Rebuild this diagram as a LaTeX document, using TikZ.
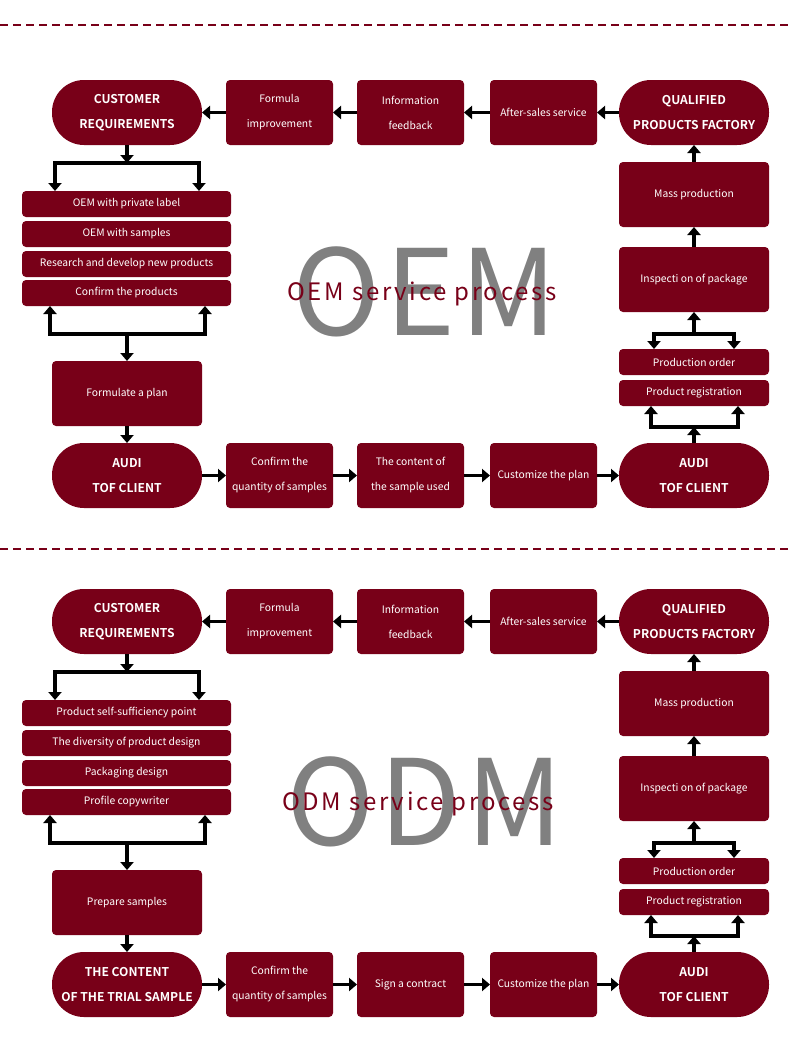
\documentclass[tikz,border=0pt]{standalone}
\usepackage{fontspec}
\setmainfont{Noto Sans CJK SC}[BoldFont={Noto Sans CJK SC Bold}]
\newfontfamily\bigfont[LetterSpace=4]{Noto Sans CJK SC}
\newfontfamily\titlefont[LetterSpace=11]{Noto Sans CJK SC}
\usetikzlibrary{arrows.meta,calc}
\definecolor{wine}{RGB}{120,0,24}

\tikzset{
  base/.style={fill=wine, text=white, inner sep=0pt, outer sep=0pt, align=center, font=\fontsize{10.3}{25}\selectfont},
  pill/.style={base, minimum width=150pt, minimum height=65pt, rounded corners=32pt, font=\bfseries\fontsize{12.1}{25}\selectfont},
  box/.style={base, minimum width=107pt, minimum height=65pt, rounded corners=4pt},
  tallbox/.style={box, minimum width=150pt},
  listbox/.style={box, minimum width=209pt, minimum height=26pt},
  itembox/.style={box, minimum width=150pt, minimum height=26pt},
  arr/.style={line width=3.5pt, -{Triangle[width=13pt,length=8pt]}},
  both/.style={line width=3.5pt, {Triangle[width=13pt,length=8pt]}-{Triangle[width=13pt,length=8pt]}},
  sep/.style={wine, line width=2pt, dash pattern=on 8pt off 5pt},
  bigtext/.style={font=\bigfont\fontsize{119}{119}\selectfont, text=black!50, anchor=base, inner sep=0pt},
  titletext/.style={font=\titlefont\fontsize{24}{24}\selectfont, text=wine, anchor=base, inner sep=0pt}
}

\begin{document}
\begin{tikzpicture}[x=1pt,y=-1pt]
    \useasboundingbox (0,0) rectangle (790,1045);

    % separators
    \draw[sep] (0,25) -- (790,25);
    \draw[sep] (0,549) -- (790,549);

    % ---------------- OEM ----------------
    \node[bigtext] (obig) at (425,335) {OEM};
    \node[titletext] (otitle) at (422,300) {OEM service process};

    \node[pill] (ocust) at (127,112.5) {CUSTOMER\\REQUIREMENTS};
    \node[box] (oform) at (279.5,112.5) {Formula\\improvement};
    \node[box] (oinfo) at (410.5,112.5) {Information\\feedback};
    \node[box] (oafter) at (543.5,112.5) {After-sales service};
    \node[pill] (oqual) at (694,112.5) {QUALIFIED\\PRODUCTS FACTORY};

    \node[tallbox] (omass) at (694,194.5) {Mass production};
    \node[tallbox] (oinsp) at (694,279.5) {Inspecti on of package};
    \node[itembox] (oorder) at (694,362) {Production order};
    \node[itembox] (oreg) at (694,393) {Product registration};

    \node[listbox] (olist1) at (126.5,204) {OEM with private label};
    \node[listbox] (olist2) at (126.5,234) {OEM with samples};
    \node[listbox] (olist3) at (126.5,264) {Research and develop new products};
    \node[listbox] (olist4) at (126.5,293) {Confirm the products};
    \node[tallbox] (oplan) at (127,393.5) {Formulate a plan};

    \node[pill] (otof) at (127,475.5) {AUDI\\TOF CLIENT};
    \node[box] (oquant) at (279.5,475.5) {Confirm the\\quantity of samples};
    \node[box] (osample) at (410.5,475.5) {The content of\\the sample used};
    \node[box] (ocustom) at (543.5,475.5) {Customize the plan};
    \node[pill] (oaudi) at (694,475.5) {AUDI\\TOF CLIENT};

    \draw[arr] (oform) -- (ocust);
    \draw[arr] (oinfo) -- (oform);
    \draw[arr] (oafter) -- (oinfo);
    \draw[arr] (oqual) -- (oafter);
    \draw[arr] (omass) -- (oqual);
    \draw[arr] (oinsp) -- (omass);

    \coordinate (ob1) at (127,163);
    \draw[arr] (ocust) -- (ob1);
    \draw[both] ([xshift=33pt]olist1.north west) |- (ob1) -| ([xshift=-32pt]olist1.north east);
    \coordinate (ob2) at (127,334);
    \draw[both] ([xshift=28pt]olist4.south west) |- (ob2) -| ([xshift=-26pt]olist4.south east);
    \draw[arr] (ob2) -- (oplan.north);
    \draw[arr] (oplan) -- (otof);

    \draw[arr] (otof) -- (oquant);
    \draw[arr] (oquant) -- (osample);
    \draw[arr] (osample) -- (ocustom);
    \draw[arr] (ocustom) -- (oaudi);

    \coordinate (ob3) at (694,334);
    \draw[arr] (ob3) -- (oinsp.south);
    \draw[both] ([xshift=35pt]oorder.north west) |- (ob3) -| ([xshift=-35pt]oorder.north east);
    \coordinate (ob4) at (694,427);
    \draw[arr] (oaudi) -- (ob4);
    \draw[both] ([xshift=32pt]oreg.south west) |- (ob4) -| ([xshift=-31pt]oreg.south east);

    % ---------------- ODM ----------------
    \node[bigtext] (dbig) at (425,845) {ODM};
    \node[titletext] (dtitle) at (418,810) {ODM service process};

    \node[pill] (dcust) at (127,621.5) {CUSTOMER\\REQUIREMENTS};
    \node[box] (dform) at (279.5,621.5) {Formula\\improvement};
    \node[box] (dinfo) at (410.5,621.5) {Information\\feedback};
    \node[box] (dafter) at (543.5,621.5) {After-sales service};
    \node[pill] (dqual) at (694,621.5) {QUALIFIED\\PRODUCTS FACTORY};

    \node[tallbox] (dmass) at (694,703.5) {Mass production};
    \node[tallbox] (dinsp) at (694,788.5) {Inspecti on of package};
    \node[itembox] (dorder) at (694,871) {Production order};
    \node[itembox] (dreg) at (694,902) {Product registration};

    \node[listbox] (dlist1) at (126.5,713) {Product self-sufficiency point};
    \node[listbox] (dlist2) at (126.5,743) {The diversity of product design};
    \node[listbox] (dlist3) at (126.5,773) {Packaging design};
    \node[listbox] (dlist4) at (126.5,802) {Profile copywriter};
    \node[tallbox] (dplan) at (127,902.5) {Prepare samples};

    \node[pill] (dtof) at (127,984.5) {THE CONTENT\\OF THE TRIAL SAMPLE};
    \node[box] (dquant) at (279.5,984.5) {Confirm the\\quantity of samples};
    \node[box] (dsign) at (410.5,984.5) {Sign a contract};
    \node[box] (dcustom) at (543.5,984.5) {Customize the plan};
    \node[pill] (daudi) at (694,984.5) {AUDI\\TOF CLIENT};

    \draw[arr] (dform) -- (dcust);
    \draw[arr] (dinfo) -- (dform);
    \draw[arr] (dafter) -- (dinfo);
    \draw[arr] (dqual) -- (dafter);
    \draw[arr] (dmass) -- (dqual);
    \draw[arr] (dinsp) -- (dmass);

    \coordinate (db1) at (127,672);
    \draw[arr] (dcust) -- (db1);
    \draw[both] ([xshift=33pt]dlist1.north west) |- (db1) -| ([xshift=-32pt]dlist1.north east);
    \coordinate (db2) at (127,843);
    \draw[both] ([xshift=28pt]dlist4.south west) |- (db2) -| ([xshift=-26pt]dlist4.south east);
    \draw[arr] (db2) -- (dplan.north);
    \draw[arr] (dplan) -- (dtof);

    \draw[arr] (dtof) -- (dquant);
    \draw[arr] (dquant) -- (dsign);
    \draw[arr] (dsign) -- (dcustom);
    \draw[arr] (dcustom) -- (daudi);

    \coordinate (db3) at (694,843);
    \draw[arr] (db3) -- (dinsp.south);
    \draw[both] ([xshift=35pt]dorder.north west) |- (db3) -| ([xshift=-35pt]dorder.north east);
    \coordinate (db4) at (694,936);
    \draw[arr] (daudi) -- (db4);
    \draw[both] ([xshift=32pt]dreg.south west) |- (db4) -| ([xshift=-31pt]dreg.south east);
\end{tikzpicture}
\end{document}
